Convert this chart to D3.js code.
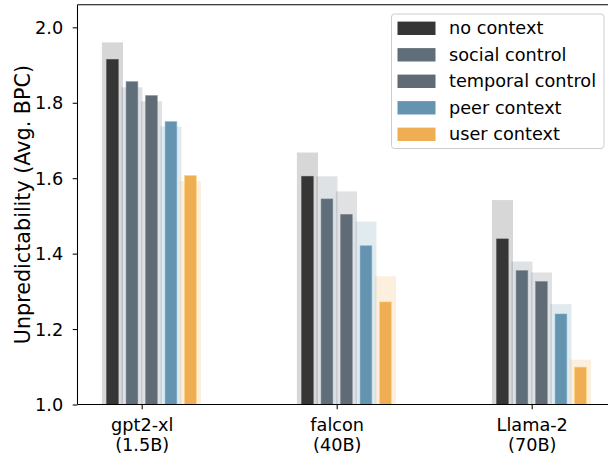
<!DOCTYPE html>
<html>
<head>
<meta charset="utf-8">
<script src="https://cdn.jsdelivr.net/npm/d3@7"></script>
<style>
  html, body { margin: 0; padding: 0; background: #fff; }
  svg { display: block; font-family: "DejaVu Sans", sans-serif; }
</style>
</head>
<body>
<svg id="chart" width="608" height="456"></svg>
<script>
// ---- data ----
const modelNames = ["gpt2-xl", "falcon", "Llama-2"];
const modelSizes = ["(1.5B)", "(40B)", "(70B)"];
const seriesNames = ["no context", "social control", "temporal control", "peer context", "user context"];
const seriesColors = ["#363636", "#5f6e79", "#606b75", "#6594b1", "#efae53"];
// main (front) bar values per model
const gpt2Values   = [1.915, 1.856, 1.819, 1.750, 1.607];
const falconValues = [1.605, 1.545, 1.504, 1.421, 1.272];
const llamaValues  = [1.439, 1.355, 1.326, 1.240, 1.099];
// faded background bar values per model
const gpt2Shadow   = [1.960, 1.841, 1.804, 1.737, 1.592];
const falconShadow = [1.668, 1.605, 1.565, 1.485, 1.340];
const llamaShadow  = [1.542, 1.379, 1.350, 1.266, 1.119];
const yTicks = [1.0, 1.2, 1.4, 1.6, 1.8, 2.0];

const frontValues = [gpt2Values, falconValues, llamaValues];
const shadowValues = [gpt2Shadow, falconShadow, llamaShadow];

// ---- layout ----
const svg = d3.select("#chart");
const axL = 77.5, axR = 640, axT = 4.7, axB = 404.5;
const FS = 17.7;
const FS_LABEL = 20.7;

const x = d3.scaleLinear().domain([0, 1]).range([141.7, 336.7]);
const y = d3.scaleLinear().domain([1.0, 2.06]).range([axB, axT]);
const step = 0.1;          // distance between bars within a group (data units)
const frontW = 0.06;       // width of main bar
const shadowW = 0.108;     // width of faded bar
const pxPerUnit = x(1) - x(0);

const g = svg.append("g");
svg.append("defs").append("clipPath").attr("id", "plotclip")
  .append("rect").attr("x", axL).attr("y", axT).attr("width", axR - axL).attr("height", axB - axT);
const plot = g.append("g").attr("clip-path", "url(#plotclip)");

const flat = (arr) => arr.flatMap((vals, gi) => vals.map((v, si) => ({gi, si, v})));

// faded bars
plot.selectAll("rect.shadow").data(flat(shadowValues)).join("rect")
  .attr("class", "shadow")
  .attr("x", d => x(d.gi + (d.si - 1.5) * step) - shadowW * pxPerUnit / 2)
  .attr("width", shadowW * pxPerUnit)
  .attr("y", d => y(d.v))
  .attr("height", d => y(1.0) - y(d.v))
  .attr("fill", d => seriesColors[d.si])
  .attr("fill-opacity", 0.2);

// main bars
plot.selectAll("rect.front").data(flat(frontValues)).join("rect")
  .attr("class", "front")
  .attr("x", d => x(d.gi + (d.si - 1.5) * step) - frontW * pxPerUnit / 2)
  .attr("width", frontW * pxPerUnit)
  .attr("y", d => y(d.v))
  .attr("height", d => y(1.0) - y(d.v))
  .attr("fill", d => seriesColors[d.si])
  .attr("stroke", d => d3.color(seriesColors[d.si]).brighter(0.5))
  .attr("stroke-opacity", 0.6)
  .attr("stroke-width", 0.8);

// spines
g.append("line").attr("x1", axL).attr("x2", axL).attr("y1", axT).attr("y2", axB)
  .attr("stroke", "#000").attr("stroke-width", 1.05);
g.append("line").attr("x1", axL).attr("x2", 620).attr("y1", axT).attr("y2", axT)
  .attr("stroke", "#000").attr("stroke-width", 1.05);
g.append("line").attr("x1", axL).attr("x2", 620).attr("y1", axB).attr("y2", axB)
  .attr("stroke", "#000").attr("stroke-width", 1.05);

// y axis
const yAxis = d3.axisLeft(y).tickValues(yTicks).tickFormat(d3.format(".1f")).tickSize(4.8).tickPadding(9.5);
const ya = g.append("g").attr("transform", `translate(${axL},0)`).call(yAxis);
ya.select(".domain").remove();
ya.selectAll("line").attr("stroke", "#000").attr("stroke-width", 1.05);
ya.selectAll("text").attr("font-size", FS).attr("fill", "#000")
  .attr("font-family", "DejaVu Sans").attr("dy", "0.35em");

// x axis
const xAxis = d3.axisBottom(x).tickValues([0, 1, 2]).tickFormat(() => "").tickSize(4.8);
const xa = g.append("g").attr("transform", `translate(0,${axB})`).call(xAxis);
xa.select(".domain").remove();
xa.selectAll("line").attr("stroke", "#000").attr("stroke-width", 1.05);
xa.selectAll(".tick").each(function(d) {
  const t = d3.select(this).append("text")
    .attr("text-anchor", "middle").attr("font-size", FS).attr("fill", "#000")
    .attr("font-family", "DejaVu Sans");
  t.append("tspan").attr("x", 0).attr("y", 26.5).text(modelNames[d]);
  t.append("tspan").attr("x", 0).attr("y", 46.5).text(modelSizes[d]);
});

// y label
g.append("text")
  .attr("transform", `translate(23,${(axT + axB) / 2}) rotate(-90)`)
  .attr("text-anchor", "middle")
  .attr("dominant-baseline", "central")
  .attr("font-size", FS_LABEL).attr("fill", "#000")
  .text("Unpredictability (Avg. BPC)");

// legend
const lg = g.append("g");
lg.append("rect").attr("x", 391.5).attr("y", 14).attr("width", 212.5).attr("height", 134.5)
  .attr("rx", 3).attr("fill", "#fff").attr("fill-opacity", 0.8)
  .attr("stroke", "#cccccc").attr("stroke-width", 1);
seriesNames.forEach((name, i) => {
  const cy = 28.3 + i * 26.5;
  lg.append("rect").attr("x", 397.5).attr("y", cy - 6.7).attr("width", 38).attr("height", 13.4)
    .attr("fill", seriesColors[i]);
  lg.append("text").attr("x", 449).attr("y", cy).attr("dominant-baseline", "central")
    .attr("font-size", FS).attr("fill", "#000").text(name);
});
</script>
</body>
</html>
